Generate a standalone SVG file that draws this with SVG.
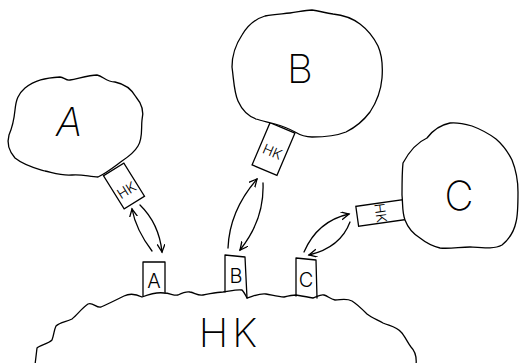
<svg xmlns="http://www.w3.org/2000/svg" width="520" height="363" viewBox="0 0 520 363">
<style>
.ln{fill:none;stroke:#000;stroke-width:1.3;stroke-linejoin:round;stroke-linecap:round}
.cl{fill:#fff;stroke:#000;stroke-width:1.3;stroke-linejoin:round}
.bx{fill:#fff;stroke:#000;stroke-width:1.3}
.t{font-family:Inter,"Liberation Sans",sans-serif;font-weight:200;fill:#000;text-anchor:middle}
.big{font-size:40px}
.sm{font-size:14px;font-weight:300}
.md{font-size:20px;font-weight:300}
</style>
<defs>
<marker id="ah" markerUnits="userSpaceOnUse" markerWidth="12" markerHeight="12" refX="8" refY="4" orient="auto">
<path d="M0,0 L8,4 L0,8" fill="none" stroke="#000" stroke-width="1.3"/>
</marker>
</defs>
<rect width="520" height="363" fill="#fff"/>

<g id="cloudA">
<g transform="translate(124,186) rotate(-32)">
<rect class="bx" x="-12" y="-19.5" width="24" height="39"/>
<text class="t sm" x="0" y="10">HK</text>
</g>
<path class="cl" d="M 25 88 C 35 80, 45 78, 60 77 C 64 77, 66 81, 70 80 C 80 78, 90 75, 97 75 C 103 76, 106 82, 115 82 C 125 84, 132 90, 136 97 C 142 104, 144 112, 142 120 C 141 128, 143 138, 138 146 C 134 153, 128 157, 122 161 C 115 166, 108 172, 98 177 C 90 177, 82 174, 72 175 C 62 176, 54 173, 45 171 C 35 168, 25 166, 15 158 C 8 150, 7 142, 9 135 C 12 128, 14 120, 15 110 C 16 100, 18 94, 25 88 Z"/>
<text class="t big" x="69" y="136" font-style="italic">A</text>
</g>

<g id="cloudB">
<g transform="translate(273.5,149) rotate(23)">
<rect class="bx" x="-13.5" y="-23" width="27" height="46"/>
<text class="t sm" x="0" y="8">HK</text>
</g>
<path class="cl" d="M 232 67 C 232 55, 236 44, 242 35 C 248 25, 255 19, 265 16 C 275 14, 282 14, 290 13 C 298 12, 305 10, 312 10 C 320 11, 325 13, 333 14 C 343 15, 352 18, 360 24 C 368 30, 374 38, 378 46 C 382 55, 383 65, 382 78 C 381 90, 378 100, 370 112 C 364 120, 356 127, 346 132 C 336 136, 325 137, 312 137 C 304 137, 300 135, 295 132 C 288 128, 282 126, 275 124 C 268 122, 262 121, 256 119 C 248 116, 242 110, 238 101 C 234 92, 234 82, 232 67 Z"/>
<text class="t big" x="300" y="83">B</text>
</g>

<g id="cloudC">
<g transform="translate(380.5,213) rotate(-8)">
<rect class="bx" x="-23.5" y="-10" width="47" height="20"/>
<text class="t sm" transform="rotate(90)" x="0" y="5">HK</text>
</g>
<path class="cl" d="M 403 163 C 410 150, 418 142, 427 138 C 433 130, 440 125, 450 123 C 458 122, 465 124, 472 126 C 480 129, 488 133, 496 139 C 503 145, 508 152, 512 160 C 516 170, 518 180, 518 192 C 518 205, 518 215, 516 222 C 514 232, 508 240, 502 245 C 495 249, 485 248, 470 247 C 460 247, 450 249, 440 248 C 432 246, 425 242, 420 238 C 412 233, 408 228, 405 220 C 402 212, 403 205, 402 195 C 402 185, 402 172, 403 163 Z"/>
<text class="t big" x="459" y="210">C</text>
</g>

<g id="cloudHK">
<path class="ln" d="M 35 365 L 37 348 C 40 345, 48 344, 52 340 C 54 335, 54 330, 56 326 C 60 322, 66 322, 72 319 C 77 315, 83 307, 88 304 C 93 302, 96 308, 101 307 C 108 304, 116 300, 124 296 C 130 293, 136 294, 142 297 C 150 294, 158 292, 164 293 C 170 293, 174 296, 178 295 C 182 293, 186 291, 190 292 C 195 293, 198 296, 203 295 C 210 294, 216 292, 223 292 C 230 291, 238 289, 242 290 C 244 292, 246 296, 247 298 C 254 296, 260 293, 266 294 C 272 295, 278 297, 284 297 C 288 296, 292 295, 296 295 C 302 296, 308 297, 313 298 C 317 297, 320 294, 324 295 C 328 296, 330 299, 335 300 C 341 300, 346 298, 352 301 C 357 304, 362 309, 367 314 C 372 318, 378 320, 383 323 C 390 326, 397 327, 401 332 C 405 336, 407 342, 411 347 C 415 351, 417 356, 416 365"/>
<text class="t big" x="230" y="347" letter-spacing="4">HK</text>
</g>

<g id="boxA">
<path class="ln" d="M 143 296 L 143 262 L 165 262 L 165 293"/>
<text class="t md" x="154" y="288">A</text>
</g>
<g id="boxB">
<path class="ln" d="M 225 292 L 225 255 L 245 257 L 247 298"/>
<text class="t md" x="236" y="283">B</text>
</g>
<g id="boxC">
<path class="ln" d="M 296 296 L 296 258 L 316 260 L 317 298"/>
<text class="t md" x="306" y="287">C</text>
</g>

<g id="connectors" class="ln">
<path class="ln" d="M 152 251 Q 136 230 132 209" marker-end="url(#ah)"/>
<path class="ln" d="M 140 205 Q 159 223.5 162 252" marker-end="url(#ah)"/>
<path class="ln" d="M 228 248 Q 229.5 210.5 257 179" marker-end="url(#ah)"/>
<path class="ln" d="M 263 183 Q 264.5 219.5 240 250" marker-end="url(#ah)"/>
<path class="ln" d="M 304 252 Q 317.5 221 349 214" marker-end="url(#ah)"/>
<path class="ln" d="M 350 222 Q 340.5 247.5 309 255" marker-end="url(#ah)"/>
</g>
</svg>
